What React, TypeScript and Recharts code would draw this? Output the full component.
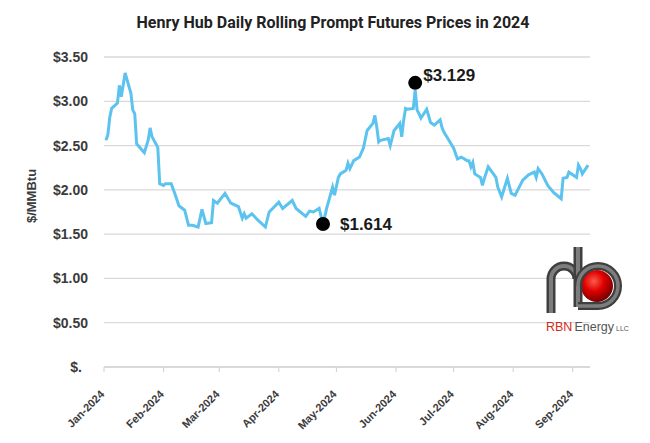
import { LineChart, Line, XAxis, YAxis, CartesianGrid, ReferenceDot } from "recharts";

// Rolling prompt futures, $/MMBtu
const DATES = [
  "01-02", "01-03", "01-04", "01-05", "01-08", "01-09", "01-10", "01-12", "01-15", "01-16",
  "01-17", "01-18", "01-22", "01-24", "01-25", "01-26", "01-29", "01-30", "02-01", "02-02",
  "02-05", "02-07", "02-09", "02-12", "02-14", "02-16", "02-19", "02-21", "02-23", "02-26",
  "02-27", "02-29", "03-04", "03-07", "03-11", "03-13", "03-14", "03-15", "03-18", "03-21",
  "03-25", "03-27", "04-01", "04-03", "04-08", "04-10", "04-15", "04-17", "04-19", "04-22",
  "04-24", "04-26", "04-29", "04-30", "05-02", "05-03", "05-06", "05-07", "05-08", "05-10",
  "05-13", "05-15", "05-17", "05-20", "05-21", "05-22", "05-23", "05-24", "05-28", "05-29",
  "05-31", "06-03", "06-04", "06-05", "06-06", "06-07", "06-10", "06-11", "06-12", "06-13",
  "06-14", "06-17", "06-19", "06-21", "06-24", "06-25", "06-26", "06-28", "07-01", "07-03",
  "07-05", "07-08", "07-09", "07-10", "07-11", "07-12", "07-15", "07-16", "07-17", "07-19",
  "07-23", "07-24", "07-26", "07-29", "07-31", "08-02", "08-06", "08-09", "08-12", "08-13",
  "08-14", "08-16", "08-19", "08-22", "08-26", "08-27", "08-29", "08-30", "09-03", "09-04",
  "09-05", "09-06", "09-09",
];

const PRICES = [
  2.56, 2.62, 2.82, 2.92, 2.98, 3.18, 3.05, 3.32, 3.09, 2.9,
  2.86, 2.52, 2.42, 2.56, 2.7, 2.6, 2.48, 2.07, 2.05, 2.07,
  2.07, 1.95, 1.82, 1.77, 1.6, 1.6, 1.58, 1.78, 1.62, 1.63,
  1.88, 1.85, 1.96, 1.85, 1.81, 1.68, 1.73, 1.68, 1.73, 1.66,
  1.58, 1.75, 1.86, 1.79, 1.88, 1.79, 1.7, 1.76, 1.75, 1.79,
  1.614, 1.8, 2.03, 1.94, 2.14, 2.18, 2.22, 2.3, 2.24, 2.33,
  2.37, 2.47, 2.67, 2.75, 2.84, 2.71, 2.54, 2.56, 2.58, 2.5,
  2.67, 2.75, 2.6, 2.79, 2.92, 2.91, 2.92, 3.129, 2.9, 2.86,
  2.81, 2.91, 2.76, 2.73, 2.79, 2.7, 2.65, 2.58, 2.47, 2.35,
  2.37, 2.33, 2.33, 2.26, 2.31, 2.18, 2.14, 2.05, 2.13, 2.26,
  2.14, 2.03, 1.92, 2.13, 1.96, 1.94, 2.11, 2.17, 2.2, 2.14,
  2.24, 2.18, 2.05, 1.97, 1.9, 2.13, 2.14, 2.2, 2.14, 2.28,
  2.24, 2.18, 2.28,
];

const MONTH_STARTS = ["01-01", "02-01", "03-01", "04-01", "05-01", "06-01", "07-01", "08-01", "09-01"];
const MONTH_LABELS = ["Jan-2024", "Feb-2024", "Mar-2024", "Apr-2024", "May-2024", "Jun-2024", "Jul-2024", "Aug-2024", "Sep-2024"];

const Y_TICKS = [0, 0.5, 1, 1.5, 2, 2.5, 3, 3.5];
const Y_TICK_LABELS = ["$.", "$0.50", "$1.00", "$1.50", "$2.00", "$2.50", "$3.00", "$3.50"];

const LOW = { date: "04-24", price: 1.614, label: "$1.614" };
const HIGH = { date: "06-11", price: 3.129, label: "$3.129" };

const dayOf = (md: string) => {
  const [m, d] = md.split("-").map(Number);
  return (Date.UTC(2024, m - 1, d) - Date.UTC(2024, 0, 1)) / 86400000;
};

const data = DATES.map((d, i) => ({ day: dayOf(d), price: PRICES[i] }));
const monthTicks = MONTH_STARTS.map(dayOf);

const FONT = '"Liberation Sans", Arial, sans-serif';
const TEXT = "#3b3b3b";

function MonthTick({ x, y, index }: any) {
  const ax = x + 1;
  const ay = y + 21;
  return (
    <text
      x={ax}
      y={ay}
      transform={`rotate(-45 ${ax} ${ay})`}
      textAnchor="end"
      fill={TEXT}
      fontFamily={FONT}
      fontWeight={700}
      fontSize={11}
    >
      {MONTH_LABELS[index]}
    </text>
  );
}

function PriceTick({ x, y, index }: any) {
  // the zero label sits a little further left, as in the accounting format
  const shift = index === 0 ? -6 : 0;
  return (
    <text
      x={x + shift}
      y={y}
      dy="0.355em"
      textAnchor="end"
      fill={TEXT}
      fontFamily={FONT}
      fontWeight={700}
      fontSize={14}
    >
      {Y_TICK_LABELS[index]}
    </text>
  );
}

function Logo() {
  return (
    <svg width={650} height={443} style={{ position: "absolute", left: 0, top: 0, pointerEvents: "none" }}>
      <defs>
        <radialGradient id="ball" cx="0.4" cy="0.35" r="0.7">
          <stop offset="0" stopColor="#ff5a4a" />
          <stop offset="0.45" stopColor="#e00000" />
          <stop offset="1" stopColor="#6a0000" />
        </radialGradient>
      </defs>
      <circle cx={597} cy={286} r={16} fill="url(#ball)" />
      <g fill="none" strokeLinecap="butt">
        <path d="M551 313 L551 279 A13 13 0 0 1 577 279" stroke="#3f3f3f" strokeWidth={9} />
        <path d="M551 313 L551 279 A13 13 0 0 1 577 279" stroke="#7d7d7d" strokeWidth={4} />
        <path d="M578 247 L578 307" stroke="#3f3f3f" strokeWidth={9} />
        <path d="M578 247 L578 307" stroke="#7d7d7d" strokeWidth={4} />
        <path d="M578 286 A20 20 0 1 1 598 306 L578 306" stroke="#3f3f3f" strokeWidth={8} />
        <path d="M578 286 A20 20 0 1 1 598 306 L578 306" stroke="#7d7d7d" strokeWidth={3.5} />
      </g>
      <text x={546} y={331} fontFamily={FONT} fontSize={12.5}>
        <tspan fill="#d42a22">RBN</tspan>
        <tspan fill="#555" dx={2}>Energy</tspan>
        <tspan fill="#555" fontSize={7} dx={2}>LLC</tspan>
      </text>
    </svg>
  );
}

export default function App() {
  return (
    <div style={{ position: "absolute", left: 0, top: 0, width: 650, height: 443, background: "#fff" }}>
      <div
        style={{
          position: "absolute",
          left: 333,
          top: 13,
          transform: "translateX(-50%)",
          whiteSpace: "nowrap",
          fontFamily: '"Liberation Sans Narrow", Roboto, sans-serif',
          fontWeight: 700,
          fontSize: 16,
          color: "#222",
        }}
      >
        Henry Hub Daily Rolling Prompt Futures Prices in 2024
      </div>
      <div
        style={{
          position: "absolute",
          left: 31,
          top: 196,
          transform: "translate(-50%, -50%) rotate(-90deg)",
          whiteSpace: "nowrap",
          fontFamily: FONT,
          fontWeight: 700,
          fontSize: 13,
          color: TEXT,
        }}
      >
        $/MMBtu
      </div>
      <LineChart
        width={650}
        height={443}
        data={data}
        margin={{ top: 57, right: 60, bottom: 0, left: 0 }}
        style={{ position: "absolute", left: 0, top: 0 }}
      >
        <CartesianGrid vertical={false} stroke="#d9d9d9" strokeWidth={1.3} />
        <XAxis
          dataKey="day"
          type="number"
          domain={[0, 253]}
          ticks={monthTicks}
          interval={0}
          height={76}
          stroke="#d0d0d0"
          tickSize={5}
          tick={<MonthTick />}
        />
        <YAxis
          type="number"
          domain={[0, 3.5]}
          ticks={Y_TICKS}
          width={104}
          axisLine={false}
          tickLine={false}
          tickSize={0}
          tickMargin={16}
          tick={<PriceTick />}
        />
        <Line
          dataKey="price"
          type="linear"
          stroke="#5cc3ef"
          strokeWidth={3}
          dot={false}
          isAnimationActive={false}
        />
        <ReferenceDot
          x={dayOf(LOW.date)}
          y={LOW.price}
          r={7}
          fill="#000"
          stroke="none"
          label={{
            value: LOW.label,
            position: "right",
            offset: 10,
            fill: "#1a1a1a",
            fontFamily: FONT,
            fontWeight: 700,
            fontSize: 17,
          }}
        />
        <ReferenceDot
          x={dayOf(HIGH.date)}
          y={HIGH.price}
          r={7}
          fill="#000"
          stroke="none"
          shape={(p: any) => <circle cx={p.cx} cy={p.cy - 7} r={7} fill="#000" />}
          label={(p: any) => {
            const vb = p.viewBox || {};
            const cx = (vb.x ?? 0) + (vb.width ?? 0) / 2;
            const cy = (vb.y ?? 0) + (vb.height ?? 0) / 2;
            return (
              <text
                x={cx + 8}
                y={cy - 14}
                dominantBaseline="central"
                fill="#1a1a1a"
                fontFamily={FONT}
                fontWeight={700}
                fontSize={17}
              >
                {HIGH.label}
              </text>
            );
          }}
        />
      </LineChart>
      <Logo />
    </div>
  );
}
